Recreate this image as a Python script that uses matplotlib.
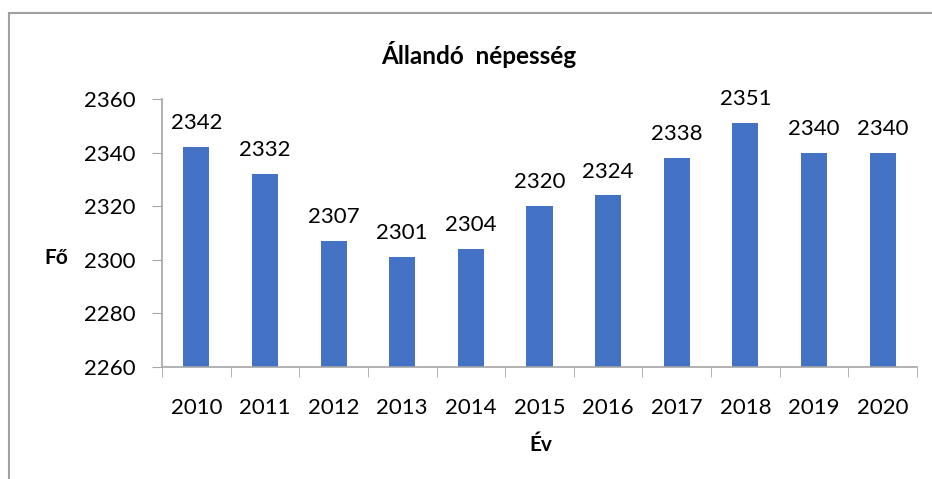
import matplotlib

matplotlib.use("Agg")
import matplotlib.pyplot as plt
from matplotlib.lines import Line2D
import numpy as np

years = ["2010", "2011", "2012", "2013", "2014", "2015", "2016", "2017", "2018", "2019", "2020"]
population = [2342, 2332, 2307, 2301, 2304, 2320, 2324, 2338, 2351, 2340, 2340]
y_ticks = [2260, 2280, 2300, 2320, 2340, 2360]

plt.rcParams["font.family"] = ["Lato", "DejaVu Sans"]

W, H = 932, 479
fig = plt.figure(figsize=(W / 100, H / 100), dpi=100)
ax = fig.add_axes([162 / W, 1 - 367 / H, (917 - 162) / W, (367 - 99) / H])

x = np.arange(len(years))
ax.bar(x, [v - y_ticks[0] for v in population], bottom=y_ticks[0], width=0.38, color="#4472C4", zorder=2)
for xi, v in zip(x, population):
    ax.text(xi, v + 5.2, str(v), ha="center", va="bottom", fontsize=16)

ax.set_xlim(-0.5, len(years) - 0.5)
ax.set_ylim(y_ticks[0], y_ticks[-1])
ax.set_yticks(y_ticks)
ax.set_yticklabels([str(t) for t in y_ticks], fontsize=16)
ax.set_xticks(x)
ax.set_xticklabels(years, fontsize=16)
ax.tick_params(axis="x", length=0, pad=22)
ax.tick_params(axis="y", length=7, color="#A6A6A6", direction="out", pad=12)
# category boundary ticks
ax.set_xticks(np.arange(-0.5, len(years), 1), minor=True)
ax.tick_params(axis="x", which="minor", length=7, color="#A6A6A6", direction="out")

for side in ("top", "right"):
    ax.spines[side].set_visible(False)
for side in ("left", "bottom"):
    ax.spines[side].set_color("#A6A6A6")
    ax.spines[side].set_linewidth(1.2)

fig.text(479 / W, 1 - 54 / H, "Állandó  népesség", ha="center", va="center", fontsize=17.5, fontweight="bold")
fig.text(56 / W, 1 - 258 / H, "Fő", ha="center", va="center", fontsize=15, fontweight="bold")
fig.text(541 / W, 1 - 445 / H, "Év", ha="center", va="center", fontsize=15, fontweight="bold")

# outer chart border (left and top visible)
fig.add_artist(Line2D([8.5 / W, 8.5 / W], [0, 1 - 13 / H], color="#A0A0A0", linewidth=1.5, transform=fig.transFigure))
fig.add_artist(Line2D([8.5 / W, 1], [1 - 13 / H, 1 - 13 / H], color="#A0A0A0", linewidth=1.5, transform=fig.transFigure))

fig.savefig("out.png", dpi=100)
